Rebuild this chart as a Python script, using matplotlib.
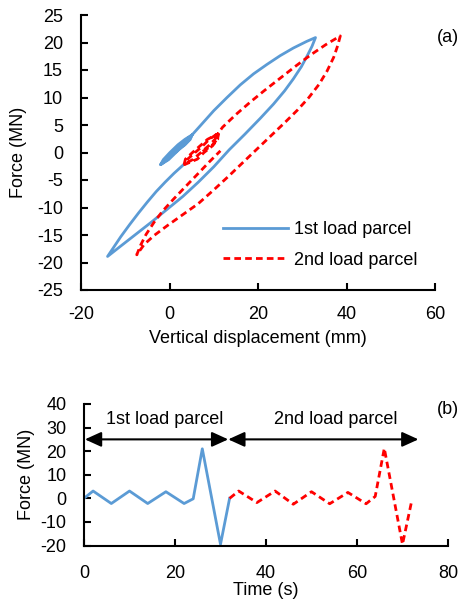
import matplotlib
matplotlib.use("Agg")
import matplotlib.pyplot as plt

plt.rcParams['font.family'] = ['Liberation Sans', 'DejaVu Sans']
plt.rcParams['axes.unicode_minus'] = False

BLUE = '#5B9BD5'
RED = '#FF0000'

# ---- Panel (a): force vs vertical displacement ----
# 1st load parcel: small cycles, loading to peak, unloading to negative tip, reloading
p1_disp = [1.2, 3.5, 4.7, 5.1, 3.5, 1.9, 0.1, -1.4, -2.0,
           -0.5, 1.2, 3.0, 4.3, 5.1, 3.9, 2.4, 0.6, -1.1, -2.0,
           -0.2, 1.45, 3.25, 4.5, 5.1,
           7.0, 10.0, 13.0, 16.0, 19.0, 22.0, 25.0, 28.0, 31.0, 33.0,
           32.2, 31.2, 29.8, 28.0, 26.0, 23.5, 20.5, 17.0, 13.5, 10.0, 6.5, 3.0, -0.5, -4.0,
           -7.5, -11.0, -14.0,
           -12.5, -11.0, -9.0, -7.0, -5.0, -3.0, -1.0, 1.0, 3.6]
p1_force = [0.0, 1.4, 2.4, 3.2, 2.4, 1.4, 0.0, -1.3, -2.2,
            -1.3, 0.0, 1.4, 2.4, 3.2, 2.4, 1.4, 0.0, -1.3, -2.2,
            -1.3, 0.0, 1.4, 2.4, 3.2,
            4.9, 7.6, 10.0, 12.3, 14.3, 16.0, 17.6, 19.0, 20.2, 20.9,
            19.3, 17.7, 15.6, 13.4, 11.2, 8.8, 6.2, 3.3, 0.5, -2.6, -5.4, -8.0, -10.3, -12.6,
            -14.8, -17.0, -18.9,
            -17.1, -15.3, -13.1, -11.0, -9.0, -7.1, -5.4, -3.8, -1.9]

# 2nd load parcel
p2_disp = [7.5, 9.5, 10.8, 11.0, 8.6, 6.9, 5.2, 3.6, 3.3,
           5.4, 7.1, 8.8, 10.3, 10.8, 9.0, 7.5, 5.8, 4.1, 3.4,
           6.3, 7.8, 9.7, 10.9, 11.0,
           12.0, 15.0, 18.3, 21.5, 25.0, 28.5, 32.0, 35.3, 38.6,
           38.0, 37.1, 35.6, 33.8, 31.5, 28.9, 26.0, 23.0, 20.0, 17.0, 13.5, 10.0, 6.5, 3.0,
           -0.5, -3.5, -5.7, -7.4,
           -6.5, -5.3, -3.5, -1.5, 1.0, 3.5, 6.5, 9.0, 11.5]
p2_force = [0.2, 1.2, 2.4, 3.4, 2.4, 1.2, 0.0, -1.2, -2.2,
            -1.2, 0.0, 1.2, 2.4, 3.4, 2.4, 1.2, 0.0, -1.2, -2.2,
            -1.2, 0.0, 1.2, 2.4, 3.5,
            4.6, 6.9, 9.2, 11.3, 13.5, 15.7, 17.8, 19.6, 21.2,
            19.4, 17.3, 14.8, 12.4, 10.0, 7.7, 5.4, 3.1, 0.8, -1.5, -4.2, -6.8, -9.3, -11.3,
            -13.3, -15.1, -16.7, -18.6,
            -16.8, -14.9, -12.7, -10.6, -8.4, -6.3, -3.8, -1.7, 0.3]

# ---- Panel (b): force vs time ----
t1 = [0, 2, 6, 10, 14, 18, 22, 24, 26, 30, 32]
f1 = [0, 3.1, -2.2, 3.1, -2.2, 2.8, -2.2, -0.2, 21.0, -19.5, 0.0]
t2 = [32, 34, 38, 42, 46, 50, 54, 58, 62, 64, 66, 70, 72]
f2 = [0.0, 3.1, -1.8, 3.1, -2.5, 2.8, -2.3, 2.5, -2.3, 0.8, 21.2, -19.5, -1.3]

series_labels = ['1st load parcel', '2nd load parcel']
xticks_a = [-20, 0, 20, 40, 60]
yticks_a = [-25, -20, -15, -10, -5, 0, 5, 10, 15, 20, 25]
xticks_b = [0, 20, 40, 60, 80]
yticks_b = [-20, -10, 0, 10, 20, 30, 40]

FS = 13
W, H = 460, 603
fig = plt.figure(figsize=(W / 100, H / 100), dpi=100)

RED_DASH = (0, (2.4, 1.5))
line_kw = dict(lw=2.0, solid_joinstyle='round', dash_joinstyle='round')

# Panel (a)
axa = fig.add_axes([81 / W, 1 - 290 / H, (435 - 81) / W, 275 / H])
axa.plot(p1_disp, p1_force, color=BLUE, label=series_labels[0], **line_kw)
axa.plot(p2_disp, p2_force, color=RED, ls=RED_DASH, label=series_labels[1], **line_kw)
axa.set_xlim(-20, 60)
axa.set_ylim(-25, 25)
axa.set_xticks(xticks_a)
axa.set_yticks(yticks_a)
axa.set_xlabel('Vertical displacement (mm)', fontsize=FS)
axa.set_ylabel('Force (MN)', fontsize=FS)
axa.xaxis.set_label_coords(0.5, (290 - 330) / 275)
axa.yaxis.set_label_coords((27 - 81) / 354, 0.5)
leg = axa.legend(loc='upper left', bbox_to_anchor=((223 - 81) / 354, (290 - 221) / 275),
                 frameon=False, fontsize=FS, handlelength=3.6, handletextpad=0.35,
                 borderpad=0, borderaxespad=0, labelspacing=0.75)

# Panel (b)
axb = fig.add_axes([84 / W, 1 - 545.5 / H, (448 - 84) / W, 141.5 / H])
axb.plot(t1, f1, color=BLUE, **line_kw)
axb.plot(t2, f2, color=RED, ls=RED_DASH, **line_kw)
axb.set_xlim(0, 80)
axb.set_ylim(-20, 40)
axb.set_xticks(xticks_b)
axb.set_yticks(yticks_b)
axb.set_xlabel('Time (s)', fontsize=FS)
axb.set_ylabel('Force (MN)', fontsize=FS)
axb.xaxis.set_label_coords(0.5, (545.5 - 582) / 141.5)
axb.yaxis.set_label_coords((35 - 84) / 364, 0.5)

arrow_kw = dict(arrowstyle='<|-|>,head_length=0.55,head_width=0.25', color='black', lw=1.5,
                shrinkA=0, shrinkB=0, mutation_scale=18)
axb.annotate('', xy=(0.2, 25), xytext=(31.7, 25), arrowprops=arrow_kw)
axb.annotate('', xy=(31.7, 25), xytext=(73.5, 25), arrowprops=arrow_kw)
axb.text(17.8, 33.5, series_labels[0], ha='center', va='center', fontsize=FS)
axb.text(55.3, 33.5, series_labels[1], ha='center', va='center', fontsize=FS)

for ax, xpad, ypad in ((axa, 11.5, 13), (axb, 14, 12.5)):
    for s in ('top', 'right'):
        ax.spines[s].set_visible(False)
    for s in ('left', 'bottom'):
        ax.spines[s].set_linewidth(1.5)
        ax.spines[s].set_color('black')
    ax.tick_params(axis='both', direction='in', length=5, width=1.5, labelsize=FS)
    ax.tick_params(axis='x', pad=xpad)
    ax.tick_params(axis='y', pad=ypad)

fig.text(459 / W, 1 - 37 / H, '(a)', ha='right', va='center', fontsize=FS)
fig.text(459 / W, 1 - 410 / H, '(b)', ha='right', va='center', fontsize=FS)

fig.savefig('out.png', dpi=100)
